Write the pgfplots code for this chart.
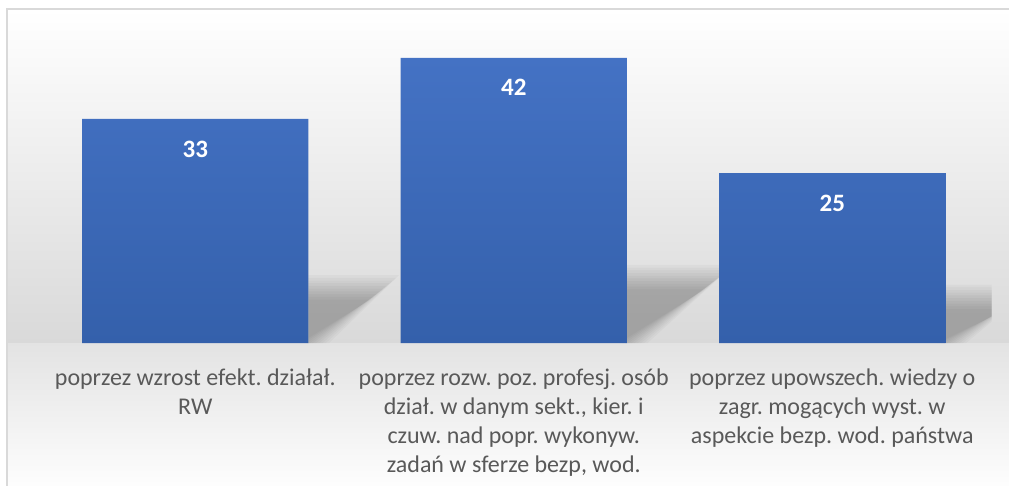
\documentclass[border=0pt]{standalone}
\usepackage{pgfplots}
\pgfplotsset{compat=1.18}
\usepackage{fontspec}
\setmainfont{Carlito}
\frenchspacing
\definecolor{barTop}{HTML}{4472C4}
\definecolor{barBot}{HTML}{3460AB}
\definecolor{lbl}{HTML}{595959}
\definecolor{bgGray}{HTML}{D9D9D9}
\definecolor{bgLow}{HTML}{E3E3E3}
\definecolor{frameC}{HTML}{D9D9D9}
\pgfplotsset{shd/.style={draw=none, fill=black, fill opacity=0.027, forget plot}}
\begin{document}
\begin{tikzpicture}[x=1pt,y=1pt]
\useasboundingbox (0,0) rectangle (1009,485);
\shade[top color=white, bottom color=bgGray] (7,142) rectangle (1020,476);
\shade[top color=bgLow, bottom color=white] (7,-10) rectangle (1020,142);
\draw[frameC, line width=1.5pt] (7,-10) -- (7,476) -- (1020,476);
\begin{axis}[
  at={(36pt,142pt)}, anchor=south west,
  scale only axis, width=955.5pt, height=305.6pt,
  xmin=-0.5, xmax=2.5, ymin=0, ymax=45,
  axis line style={draw=none},
  ytick=\empty,
  xtick={0,1,2},
  major tick length=0pt,
  /pgf/number format/assume math mode=true,
  xticklabels={
    {poprzez wzrost efekt. działał.\\RW},
    {poprzez rozw. poz. profesj. osób\\dział. w danym sekt., kier. i\\czuw. nad popr. wykonyw.\\zadań w sferze bezp, wod.},
    {poprzez upowszech. wiedzy o\\zagr. mogących wyst. w\\aspekcie bezp. wod. państwa}},
  xticklabel style={font=\fontsize{24}{29}\selectfont\frenchspacing, text=lbl, align=center, anchor=north, yshift=-22pt},
]
% shadows (decorative soft layers)
\addplot[shd] coordinates {(0.355,0) (0.355,10.0) (0.64,10.0) (0.42,0)};
\addplot[shd] coordinates {(0.355,0) (0.355,9.6) (0.63,9.6) (0.41,0)};
\addplot[shd] coordinates {(0.355,0) (0.355,9.2) (0.62,9.2) (0.40,0)};
\addplot[shd] coordinates {(0.355,0) (0.355,8.8) (0.61,8.8) (0.39,0)};
\addplot[shd] coordinates {(0.355,0) (0.355,8.4) (0.60,8.4) (0.38,0)};
\addplot[shd] coordinates {(0.355,0) (0.355,8.0) (0.59,8.0) (0.37,0)};
\addplot[shd] coordinates {(0.355,0) (0.355,7.6) (0.58,7.6) (0.36,0)};
\addplot[shd] coordinates {(0.355,0) (0.355,7.2) (0.57,7.2) (0.35,0)};
\addplot[shd] coordinates {(0.355,0) (0.355,6.8) (0.56,6.8) (0.34,0)};
\addplot[shd] coordinates {(0.355,0) (0.355,6.4) (0.55,6.4) (0.33,0)};
\addplot[shd] coordinates {(1.355,0) (1.355,11.5) (1.69,11.5) (1.42,0)};
\addplot[shd] coordinates {(1.355,0) (1.355,11.1) (1.68,11.1) (1.41,0)};
\addplot[shd] coordinates {(1.355,0) (1.355,10.7) (1.67,10.7) (1.40,0)};
\addplot[shd] coordinates {(1.355,0) (1.355,10.3) (1.66,10.3) (1.39,0)};
\addplot[shd] coordinates {(1.355,0) (1.355,9.9) (1.65,9.9) (1.38,0)};
\addplot[shd] coordinates {(1.355,0) (1.355,9.5) (1.64,9.5) (1.37,0)};
\addplot[shd] coordinates {(1.355,0) (1.355,9.1) (1.63,9.1) (1.36,0)};
\addplot[shd] coordinates {(1.355,0) (1.355,8.7) (1.62,8.7) (1.35,0)};
\addplot[shd] coordinates {(1.355,0) (1.355,8.3) (1.61,8.3) (1.34,0)};
\addplot[shd] coordinates {(1.355,0) (1.355,7.9) (1.60,7.9) (1.33,0)};
\addplot[shd] coordinates {(2.355,0) (2.355,8.6) (2.64,8.6) (2.42,0)};
\addplot[shd] coordinates {(2.355,0) (2.355,8.2) (2.63,8.2) (2.41,0)};
\addplot[shd] coordinates {(2.355,0) (2.355,7.8) (2.62,7.8) (2.40,0)};
\addplot[shd] coordinates {(2.355,0) (2.355,7.4) (2.61,7.4) (2.39,0)};
\addplot[shd] coordinates {(2.355,0) (2.355,7.0) (2.60,7.0) (2.38,0)};
\addplot[shd] coordinates {(2.355,0) (2.355,6.6) (2.59,6.6) (2.37,0)};
\addplot[shd] coordinates {(2.355,0) (2.355,6.2) (2.58,6.2) (2.36,0)};
\addplot[shd] coordinates {(2.355,0) (2.355,5.8) (2.57,5.8) (2.35,0)};
\addplot[shd] coordinates {(2.355,0) (2.355,5.4) (2.56,5.4) (2.34,0)};
\addplot[shd] coordinates {(2.355,0) (2.355,5.0) (2.55,5.0) (2.33,0)};
% bars
\addplot[ybar, bar width=0.71, bar shift=0pt, draw=none,
  top color=barTop, bottom color=barBot,
  nodes near coords,
  every node near coord/.append style={anchor=center, yshift=-30pt, text=white, font=\bfseries\fontsize{25}{25}\selectfont}]
  coordinates {(0,33) (1,42) (2,25)};
\end{axis}
\end{tikzpicture}
\end{document}
